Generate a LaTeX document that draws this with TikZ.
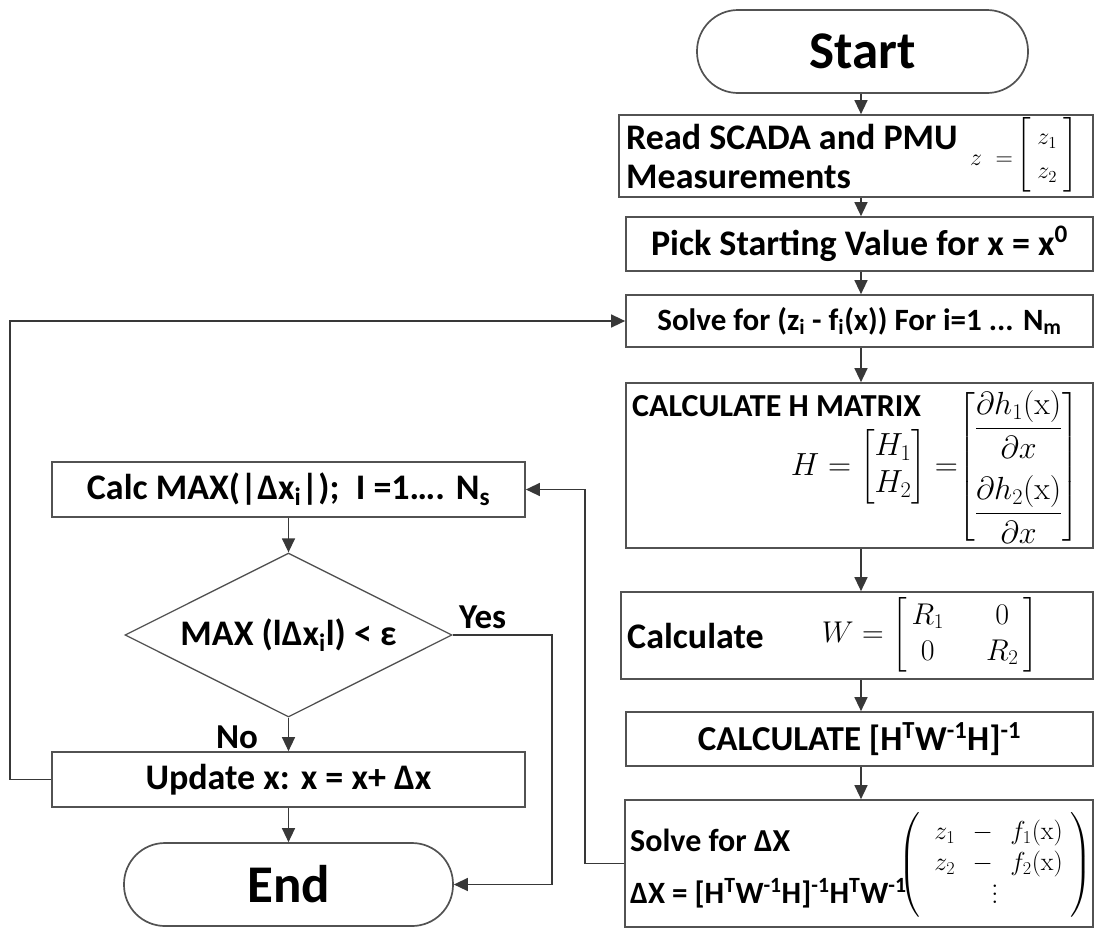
\RequirePackage{fix-cm}
\documentclass[tikz,border=0pt]{standalone}
\usepackage{amsmath}
\usepackage[no-math]{fontspec}
\setmainfont{Carlito}
\usetikzlibrary{arrows.meta,shapes.geometric}
\newcommand\fsz[1]{\fontsize{#1}{#1}\selectfont}
\newcommand\tallvdots{\vbox{\baselineskip=0.3em\lineskiplimit=0pt\kern0.2em\hbox{$.$}\hbox{$.$}\hbox{$.$}}}
\begin{document}
\begin{tikzpicture}[x=1pt,y=-1pt,
  box/.style={draw=black!68, line width=1.7pt, fill=white, inner sep=0pt, font=\bfseries\fsz{36}},
  term/.style={box, rounded corners=41pt},
  dec/.style={box, shape=diamond, aspect=1.994, line width=1.3pt},
  txt/.style={inner sep=0pt, font=\bfseries\fsz{36}},
  mth/.style={inner sep=0pt},
  conn/.style={draw=black!78, line width=1.4pt},
  arr/.style={conn, -{Triangle[length=14pt,width=13pt]}}]
\useasboundingbox (0,0) rectangle (1094,929);
\coordinate (colx) at (861,0);
\coordinate (yesx) at (552,0);
\coordinate (loopx) at (10,0);
\coordinate (fbx) at (585,0);
% ---------------- right column
\node[term, minimum width=331pt, minimum height=83pt, font=\bfseries\fsz{53}] (start) at (862.5,51.5) {Start};
\node[box, minimum width=474pt, minimum height=82pt] (read) at (856,156) {};
\node[txt, anchor=base west] (readt1) at (626,149) {Read SCADA and PMU};
\node[txt, anchor=base west] (readt2) at (626,188) {Measurements};
\node[mth, anchor=east] (readz) at (1013,160) {\fsz{24}$z\;=$};
\node[mth, anchor=west] (readm) at (1016,155) {\fsz{24}\renewcommand\arraystretch{1.4}$\begin{bmatrix}\;z_1\;\\ \;z_2\;\end{bmatrix}$};
\node[box, minimum width=467pt, minimum height=54pt] (pick) at (859.5,244) {Pick Starting Value for x = x\textsuperscript{0}};
\node[box, minimum width=467pt, minimum height=52pt, font=\bfseries\fsz{31}] (solve) at (859.5,321) {Solve for (z\textsubscript{i} - f\textsubscript{i}(x)) For i=1 ... N\textsubscript{m}};
\node[box, minimum width=467pt, minimum height=165pt] (hbox) at (859.5,465.5) {};
\node[txt, anchor=west, font=\bfseries\fsz{32}] (ht) at (632,406) {CALCULATE H MATRIX};
\node[mth, anchor=east] (hm1) at (958,467) {\fsz{32}\renewcommand\arraystretch{1.15}$H=\begin{bmatrix}H_1\\ H_2\end{bmatrix}=$};
\node[mth, anchor=west] (hm2) at (958,467) {\fsz{32}$\begin{bmatrix}\dfrac{\partial h_1(\mathrm{x})}{\partial x}\\[30pt] \dfrac{\partial h_2(\mathrm{x})}{\partial x}\end{bmatrix}$};
\node[box, minimum width=472pt, minimum height=87pt] (wbox) at (857,635.5) {};
\node[txt, anchor=west] (wt) at (627,636) {Calculate};
\node[mth] (wm) at (930,635) {\fsz{30}\renewcommand\arraystretch{1.2}\setlength\arraycolsep{21pt}$W=\left[\,\begin{matrix}R_1 & 0\\ 0 & R_2\end{matrix}\,\right]$};
\node[box, minimum width=467pt, minimum height=54pt, font=\bfseries\fsz{35}] (calc) at (859.5,739) {CALCULATE [H\textsuperscript{T}W\textsuperscript{-1}H]\textsuperscript{-1}};
\node[box, minimum width=468pt, minimum height=127pt] (dx) at (859,863.5) {};
\node[txt, anchor=west, font=\bfseries\fsz{32}] (dxt1) at (630,840) {Solve for ΔX};
\node[txt, anchor=west, font=\bfseries\fsz{31}] (dxt2) at (630,893) {ΔX = [H\textsuperscript{T}W\textsuperscript{-1}H]\textsuperscript{-1}H\textsuperscript{T}W\textsuperscript{-1}};
\node[mth] (dxm) at (995,865) {\fsz{26}\renewcommand\arraystretch{1.2}$\begin{pmatrix}\;\;z_1\ \ -\ \ f_1(\mathrm{x})\;\\ \;\;z_2\ \ -\ \ f_2(\mathrm{x})\;\\ \tallvdots\end{pmatrix}$};
% ---------------- left column
\node[box, minimum width=473pt, minimum height=55pt] (cmax) at (288.5,489.5) {Calc MAX(|Δx\textsubscript{i}|);\ \ I =1…. N\textsubscript{s}};
\node[dec, minimum width=327pt, minimum height=164pt] (dia) at (288.5,635) {MAX (lΔx\textsubscript{i}l) < ε};
\node[box, minimum width=473pt, minimum height=55pt] (update) at (288.5,779.5) {Update x: x = x+ Δx};
\node[term, minimum width=329pt, minimum height=83pt, font=\bfseries\fsz{53}] (endn) at (288.5,884.5) {End};
\node[txt, anchor=west, font=\bfseries\fsz{35}] (yes) at (459,617) {Yes};
\node[txt, font=\bfseries\fsz{35}] (no) at (237,737) {No};
% ---------------- connectors
\draw[arr] (start.south -| colx) -- (read.north -| colx);
\draw[arr] (read.south -| colx) -- (pick.north -| colx);
\draw[arr] (pick.south -| colx) -- (solve.north -| colx);
\draw[arr] (solve.south -| colx) -- (hbox.north -| colx);
\draw[arr] (hbox.south -| colx) -- (wbox.north -| colx);
\draw[arr] (wbox.south -| colx) -- (calc.north -| colx);
\draw[arr] (calc.south -| colx) -- (dx.north -| colx);
\draw[arr] (cmax.south) -- (dia.north);
\draw[arr] (dia.south) -- (update.north);
\draw[arr] (update.south) -- (endn.north);
\draw[arr] (dia.east) -- (dia.east -| yesx) -- (endn.east -| yesx) -- (endn.east);
\draw[arr] (update.west) -- (update.west -| loopx) -- (solve.west -| loopx) -- (solve.west);
\draw[arr] (dx.west) -- (dx.west -| fbx) -- (cmax.east -| fbx) -- (cmax.east);
\end{tikzpicture}
\end{document}
